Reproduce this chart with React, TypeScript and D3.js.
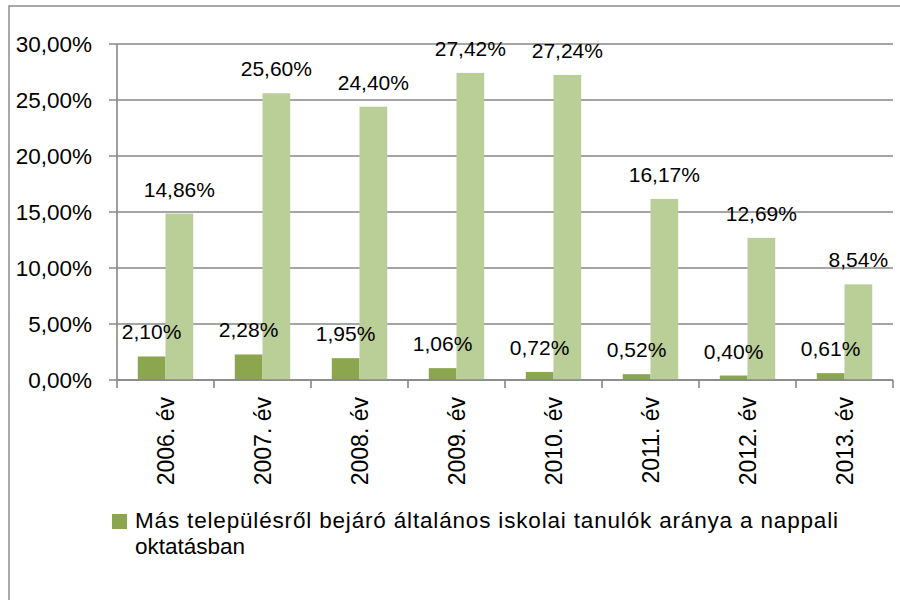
import React from "react";
import * as d3 from "d3";

const categories = ["2006. év", "2007. év", "2008. év", "2009. év", "2010. év", "2011. év", "2012. év", "2013. év"];
const seriesDark = [2.10, 2.28, 1.95, 1.06, 0.72, 0.52, 0.40, 0.61];
const seriesLight = [14.86, 25.60, 24.40, 27.42, 27.24, 16.17, 12.69, 8.54];
const yTicks = [0, 5, 10, 15, 20, 25, 30];
const seriesKeys = ["dark", "light"];
const seriesColors = ["#8BA64F", "#BACE97"];
const legendLines = ["Más településről bejáró általános iskolai tanulók aránya a nappali", "oktatásban"];

const FONT = "'Liberation Sans', Arial, sans-serif";
const fmt = (v: number) => v.toFixed(2).replace(".", ",") + "%";

export default function App() {
  const left = 117, right = 893, top = 44, bottom = 380;
  const x = d3.scaleBand<string>().domain(categories).range([left, right]).paddingInner(0).paddingOuter(0);
  const xs = d3.scaleBand<string>().domain(seriesKeys).range([0, x.bandwidth()]).paddingInner(0).paddingOuter(0.75);
  const y = d3.scaleLinear().domain([0, 30]).range([bottom, top]);
  const grid = "#878787";
  const data = [seriesDark, seriesLight];

  return (
    <svg width={900} height={600} style={{ position: "absolute", left: 0, top: 0, background: "#fff" }} fontFamily={FONT}>
      <rect x={9} y={6} width={1000} height={1000} fill="#fff" stroke="#8c8c8c" strokeWidth={1.5} />
      {yTicks.map((t) => (
        <g key={t}>
          <line x1={left - 8} x2={right} y1={y(t)} y2={y(t)} stroke={grid} strokeWidth={1.6} />
          <text x={92} y={y(t)} dy="0.36em" textAnchor="end" fontSize={22.5} fill="#000">{fmt(t)}</text>
        </g>
      ))}
      <line x1={left} x2={left} y1={top} y2={bottom + 8} stroke={grid} strokeWidth={1.6} />
      {categories.map((c) => (
        <line key={"tk" + c} x1={(x(c) as number) + x.bandwidth()} x2={(x(c) as number) + x.bandwidth()} y1={bottom} y2={bottom + 8} stroke={grid} strokeWidth={1.6} />
      ))}
      {data.map((vals, si) =>
        categories.map((c, i) => (
          <rect key={si + c} x={(x(c) as number) + (xs(seriesKeys[si]) as number)} y={y(vals[i])} width={xs.bandwidth()} height={bottom - y(vals[i])} fill={seriesColors[si]} />
        ))
      )}
      <line x1={left} x2={right} y1={bottom} y2={bottom} stroke={grid} strokeWidth={1.6} />
      {data.map((vals, si) =>
        categories.map((c, i) => (
          <text key={"l" + si + c} x={(x(c) as number) + (xs(seriesKeys[si]) as number) + xs.bandwidth() / 2} y={y(vals[i]) - 17} textAnchor="middle" fontSize={21} fill="#000">{fmt(vals[i])}</text>
        ))
      )}
      {categories.map((c) => {
        const cx = (x(c) as number) + x.bandwidth() / 2;
        return (
          <text key={"x" + c} transform={`translate(${cx},${bottom + 17}) rotate(-90)`} textAnchor="end" dy="0.36em" fontSize={23} fill="#000">{c}</text>
        );
      })}
      <rect x={112} y={514} width={15} height={15} fill={seriesColors[0]} />
      <text x={135} y={528} fontSize={22.5} fill="#000" textLength={703} lengthAdjust="spacing">{legendLines[0]}</text>
      <text x={135} y={554} fontSize={22.5} fill="#000">{legendLines[1]}</text>
    </svg>
  );
}
